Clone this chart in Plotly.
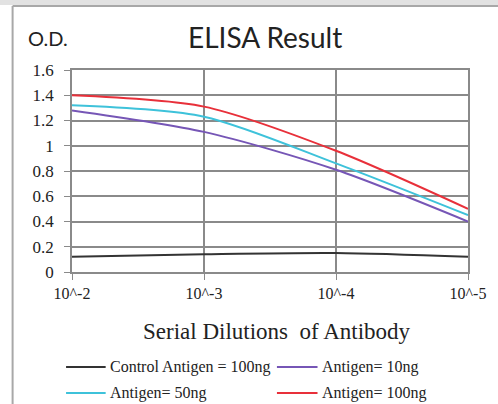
import plotly.graph_objects as go

x_pos = [0, 1, 2, 3]
tick_labels = ["10^-2", "10^-3", "10^-4", "10^-5"]
y_ticks = [0, 0.2, 0.4, 0.6, 0.8, 1, 1.2, 1.4, 1.6]
y_tick_text = ["0", "0.2", "0.4", "0.6", "0.8", "1", "1.2", "1.4", "1.6"]

series_names = ["Control Antigen = 100ng", "Antigen= 10ng", "Antigen= 50ng", "Antigen= 100ng"]
control = [0.12, 0.14, 0.15, 0.12]
ag10 = [1.28, 1.11, 0.81, 0.40]
ag50 = [1.32, 1.23, 0.86, 0.45]
ag100 = [1.40, 1.31, 0.96, 0.50]
colors = ["#333333", "#7656b6", "#3ec2da", "#e8303a"]

SERIF = "Liberation Serif, Times New Roman, serif"

fig = go.Figure()
for name, vals, c in zip(series_names, [control, ag10, ag50, ag100], colors):
    fig.add_trace(go.Scatter(x=x_pos, y=vals, mode="lines", name=name,
                             line=dict(color=c, width=2, shape="spline", smoothing=0.8)))

fig.update_layout(
    width=498, height=404,
    margin=dict(l=72, r=26, t=70, b=132),
    paper_bgcolor="white", plot_bgcolor="white",
    showlegend=False,
    xaxis=dict(range=[0, 3], tickvals=x_pos, ticktext=tick_labels,
               showgrid=True, gridcolor="#8a8a8a", gridwidth=1.5,
               showline=True, linecolor="#8a8a8a", linewidth=1.5, mirror=True,
               ticks="outside", ticklen=6, tickcolor="#8a8a8a",
               tickfont=dict(family=SERIF, size=16, color="#222"),
               zeroline=False),
    yaxis=dict(range=[0, 1.6], tickvals=y_ticks, ticktext=y_tick_text,
               showgrid=True, gridcolor="#8a8a8a", gridwidth=1.5,
               showline=True, linecolor="#8a8a8a", linewidth=1.5, mirror=True,
               ticks="outside", ticklen=6, tickcolor="#8a8a8a", ticklabelstandoff=7,
               tickfont=dict(family=SERIF, size=17, color="#222"),
               zeroline=False),
)

fig.add_annotation(text="ELISA Result", xref="paper", yref="paper", x=0.4875, y=1.163,
                   xanchor="center", yanchor="middle", showarrow=False,
                   font=dict(family="Lato", size=28, color="#222"))
fig.add_annotation(text="O.D.", xref="paper", yref="paper", x=-0.06, y=1.158,
                   xanchor="center", yanchor="middle", showarrow=False,
                   font=dict(family="Lato", size=20, color="#222"))
fig.add_annotation(text="Serial Dilutions  of Antibody", xref="paper", yref="paper",
                   x=0.518, y=-0.297, xanchor="center", yanchor="middle", showarrow=False,
                   font=dict(family=SERIF, size=23, color="#222"))

# manual legend (2 columns x 2 rows)
leg_x = [(-0.015, 0.085, 0.09), (0.5175, 0.62, 0.6275)]
leg_y = [-0.470, -0.599]
for i, (name, c) in enumerate(zip(series_names, colors)):
    lx0, lx1, tx = leg_x[i % 2]
    ly = leg_y[i // 2]
    fig.add_shape(type="line", xref="paper", yref="paper", x0=lx0, x1=lx1, y0=ly, y1=ly,
                  line=dict(color=c, width=2))
    fig.add_annotation(text=name, xref="paper", yref="paper", x=tx, y=ly,
                       xanchor="left", yanchor="middle", showarrow=False,
                       font=dict(family=SERIF, size=16, color="#222"))

# outer frame of the original image
fig.add_shape(type="rect", xref="paper", yref="paper", x0=-0.2, x1=1.1, y0=1.322, y1=1.36,
              fillcolor="#e2e2e2", line=dict(width=0), layer="below")
fig.add_shape(type="line", xref="paper", yref="paper", x0=-0.15, x1=1.1, y0=1.317, y1=1.317,
              line=dict(color="#a8a8a8", width=2))
fig.add_shape(type="line", xref="paper", yref="paper", x0=-0.15, x1=-0.15, y0=1.317, y1=-0.7,
              line=dict(color="#a8a8a8", width=2))

fig.write_html("out.html", config={"displayModeBar": False},
               post_script="document.body.style.margin='0';")
